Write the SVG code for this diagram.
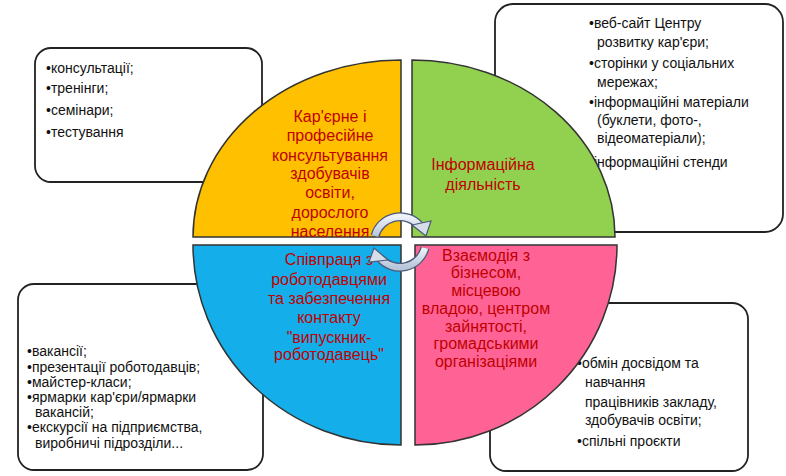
<svg xmlns="http://www.w3.org/2000/svg" width="786" height="476" viewBox="0 0 786 476">
<style>
.box{fill:#fff;stroke:#222;stroke-width:1.8}
.bt{font-family:"Liberation Sans",Arial,sans-serif;font-size:14px;fill:#111}
.rt{font-family:"Liberation Sans",Arial,sans-serif;font-size:16px;fill:#C00000;text-anchor:middle}
.q{stroke:#333;stroke-width:1.5}
</style>
<defs>
<linearGradient id="ar" x1="0" y1="0" x2="0" y2="1"><stop offset="0" stop-color="#eef2f8"/><stop offset="1" stop-color="#b8c6da"/></linearGradient>
</defs>
<g id="box-tl"><rect class="box" x="35" y="48" width="227" height="134" rx="16"/>
<text class="bt" x="46" y="73">•консультації;</text>
<text class="bt" x="46" y="93">•тренінги;</text>
<text class="bt" x="46" y="115">•семінари;</text>
<text class="bt" x="46" y="137">•тестування</text></g>
<g id="box-tr"><rect class="box" x="495" y="4" width="288" height="228" rx="18"/>
<text class="bt" x="589" y="28">•веб-сайт Центру</text>
<text class="bt" x="597" y="47">розвитку кар'єри;</text>
<text class="bt" x="589" y="68">•сторінки у соціальних</text>
<text class="bt" x="597" y="87">мережах;</text>
<text class="bt" x="589" y="107">•інформаційні матеріали</text>
<text class="bt" x="597" y="125">(буклети, фото-,</text>
<text class="bt" x="597" y="143">відеоматеріали);</text>
<text class="bt" x="589" y="167">•інформаційні стенди</text></g>
<g id="box-bl"><rect class="box" x="18" y="284" width="245" height="186" rx="16"/>
<text class="bt" x="27" y="356" font-size="13">•вакансії;</text>
<text class="bt" x="27" y="372" font-size="13">•презентації роботодавців;</text>
<text class="bt" x="27" y="387" font-size="13">•майстер-класи;</text>
<text class="bt" x="27" y="402" font-size="13">•ярмарки кар'єри/ярмарки</text>
<text class="bt" x="35" y="417" font-size="13">вакансій;</text>
<text class="bt" x="27" y="432" font-size="13">•екскурсії на підприємства,</text>
<text class="bt" x="35" y="448" font-size="13">виробничі підрозділи...</text></g>
<g id="box-br"><rect class="box" x="490" y="303" width="258" height="168" rx="16"/>
<text class="bt" x="577" y="368" font-size="15">•обмін досвідом та</text>
<text class="bt" x="585" y="387" font-size="15">навчання</text>
<text class="bt" x="585" y="407" font-size="15">працівників закладу,</text>
<text class="bt" x="585" y="425" font-size="15">здобувачів освіти;</text>
<text class="bt" x="577" y="446" font-size="15">•спільні проєкти</text></g>
<g id="q-yellow"><path class="q" fill="#FFC000" d="M401,237 L401,60 A208,177 0 0 0 193,237 Z"/>
<text class="rt"><tspan x="330" y="122">Кар'єрне і</tspan><tspan x="330" y="141">професійне</tspan><tspan x="330" y="161">консультування</tspan><tspan x="330" y="179">здобувачів</tspan><tspan x="330" y="198">освіти,</tspan><tspan x="330" y="218">дорослого</tspan><tspan x="330" y="237">населення</tspan></text></g>
<g id="q-green"><path class="q" fill="#92D050" d="M412,237 L412,60 A203,177 0 0 1 615,237 Z"/>
<text class="rt" font-size="17"><tspan x="483" y="170">Інформаційна</tspan><tspan x="483" y="190">діяльність</tspan></text></g>
<g id="q-blue"><path class="q" fill="#14AEEA" d="M401,245 L401,445 A208,200 0 0 1 193,245 Z"/>
<text class="rt"><tspan x="329" y="265">Співпраця з</tspan><tspan x="329" y="285">роботодавцями</tspan><tspan x="329" y="304">та забезпечення</tspan><tspan x="329" y="323">контакту</tspan><tspan x="329" y="343">"випускник-</tspan><tspan x="329" y="360">роботодавець"</tspan></text></g>
<g id="q-pink"><path class="q" fill="#FF6295" d="M415,245 L415,445 A202,200 0 0 0 617,245 Z"/>
<text class="rt" font-size="15"><tspan x="486" y="261">Взаємодія з</tspan><tspan x="486" y="278">бізнесом,</tspan><tspan x="486" y="296">місцевою</tspan><tspan x="486" y="314">владою, центром</tspan><tspan x="486" y="332">зайнятості,</tspan><tspan x="486" y="349">громадськими</tspan><tspan x="486" y="367">організаціями</tspan></text></g>
<g id="connectors">
<path d="M375,236 A26,26 0 0 1 420,226" fill="none" stroke="#4a5a78" stroke-width="9"/>
<path d="M375,236 A26,26 0 0 1 420,226" fill="none" stroke="url(#ar)" stroke-width="6.5"/>
<polygon points="412,225 431,221 426,236" fill="#d6deea" stroke="#4a5a78" stroke-width="1.2"/>
<path d="M425,248 A26,26 0 0 1 380,258" fill="none" stroke="#4a5a78" stroke-width="9"/>
<path d="M425,248 A26,26 0 0 1 380,258" fill="none" stroke="url(#ar)" stroke-width="6.5"/>
<polygon points="388,260 369,262 374,248" fill="#d6deea" stroke="#4a5a78" stroke-width="1.2"/>
</g>
</svg>
